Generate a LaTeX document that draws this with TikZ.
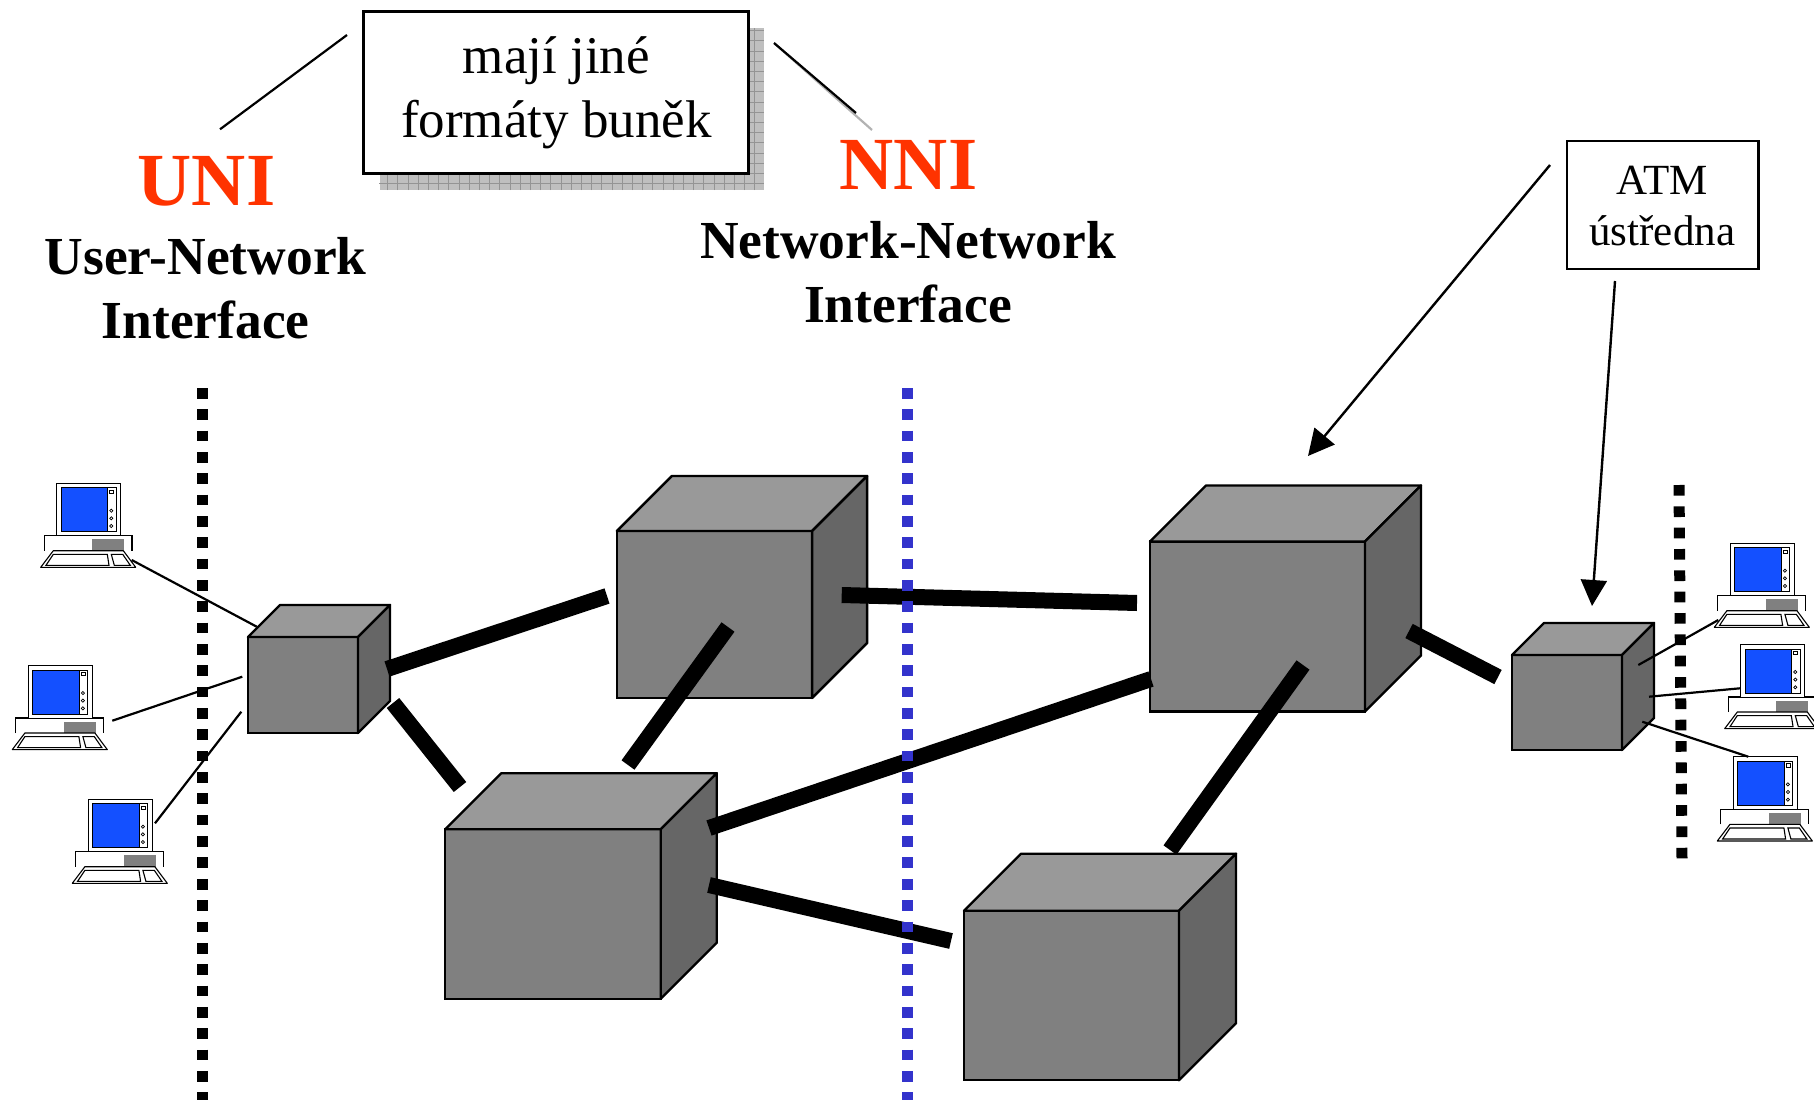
\documentclass[tikz,border=0pt]{standalone}
\usepackage{fontspec}
\setmainfont{Liberation Serif}
\usepackage{xcolor}
\usetikzlibrary{arrows.meta,positioning}
\definecolor{cubefront}{HTML}{808080}
\definecolor{cubetop}{HTML}{999999}
\definecolor{cubeside}{HTML}{666666}
\definecolor{ifred}{HTML}{FF3300}
\definecolor{nniblue}{HTML}{3333CC}
\definecolor{screenblue}{HTML}{1450FF}
\newcommand{\atmcube}[6]{%
  \node[front, minimum width=#4pt, minimum height=#5pt] (#1) at (#2,#3) {};
  \draw[face, fill=cubetop] (#1.north west) -- ++(#6,-#6) -- ++(#4,0) -- (#1.north east) -- cycle;
  \draw[face, fill=cubeside] (#1.north east) -- ++(#6,-#6) -- ++(0,#5) -- (#1.south east) -- cycle;
}
\newcommand{\pcunit}[3]{%
  \begin{scope}[shift={(#2,#3)}]
    \draw[pcline, fill=white] (-12.4,67.7) -- (-12.4,52.7) -- (75.3,52.7) -- (75.3,67.7);
    \node[monitor] (#1) at (32,26.35) {};
    \fill[screenblue, draw=black, line width=1pt] (4.3,4.7) rectangle (51,48.7);
    \draw[pcline, fill=white, line width=1pt] (51,4.7) rectangle (59.6,48.7);
    \draw[pcline, fill=white, line width=.8pt] (52.7,7) rectangle (57,10.3);
    \foreach \y in {27.7,35.3,43} \draw[pcline, fill=white, line width=.7pt] (54.6,\y) circle (1.6);
    \draw[pcline, fill=cubefront, draw=gray] (36,57) rectangle (67,67.7);
    \draw[pcline, fill=white, line join=round] (-3.4,67.7) -- (66.6,67.7) -- (79,84.3) -- (-16,84.3) -- cycle;
    \draw[pcline] (-3.4,71.3) -- (50.6,71.3) -- (52.3,82.3) -- (-10.7,82.3) -- cycle;
    \draw[pcline] (54.6,71.3) -- (66,71.3) -- (73.6,82.3) -- (57.6,82.3) -- cycle;
  \end{scope}
}
\begin{document}
\begin{tikzpicture}[x=1pt, y=-1pt,
    front/.style = {draw, fill=cubefront, line width=2.4pt, inner sep=0pt, outer sep=0pt},
    face/.style = {draw, line width=2.4pt, line join=round},
    monitor/.style = {draw, fill=white, line width=1pt, minimum width=64pt, minimum height=52.7pt, inner sep=0pt},
    pcline/.style = {draw, line width=1.1pt},
    link/.style = {line width=16pt},
    wire/.style = {line width=2.2pt},
    cut/.style = {line width=11pt, dash pattern=on 10.67pt off 10.67pt},
    callout/.style = {draw, fill=white, line width=2.4pt, inner sep=0pt, outer sep=0pt},
    pointer/.style = {line width=2.4pt, -{Triangle[length=26pt, width=26pt]}},
    acronym/.style = {text=ifred, anchor=base, font=\fontsize{75}{80}\selectfont\bfseries},
    longname/.style = {align=center, anchor=base, font=\fontsize{53.5}{64}\selectfont\bfseries}]
  \useasboundingbox (0,0) rectangle (1814,1105);

  \node[fill=black!25, minimum width=384pt, minimum height=162pt, inner sep=0pt] (shadow) at (571.5,108.8) {};
  \draw[black!42, line width=.8pt, step=10.2pt] (shadow.south west) grid (shadow.north east);
  \node[callout, minimum width=385.3pt, minimum height=162pt] (cells) at (556,92.6) {};
  \node[anchor=base, align=center, font=\fontsize{53}{63}\selectfont] (cellstext) at (556.4,137) {mají jiné\\formáty buněk};
  \node[callout, minimum width=191.8pt, minimum height=128pt] (atm) at (1662.7,205) {};
  \node[anchor=base, align=center, font=\fontsize{43}{51}\selectfont] (atmtext) at (1662.3,245) {ATM\\ústředna};

  \node[acronym] (uni) at (206.5,205.7) {UNI};
  \node[longname] (uniname) at (205.7,338) {User-Network\\Interface};
  \node[acronym] (nni) at (908.5,189.3) {NNI};
  \node[longname] (nniname) at (908,322.3) {Network-Network\\Interface};

  \atmcube{sa}{303}{685}{110}{96}{32}
  \atmcube{sb}{714.5}{614.5}{195.3}{167}{55}
  \atmcube{sc}{553}{914}{215.5}{169.5}{56}
  \atmcube{sd}{1257.5}{626.5}{215}{170}{56}
  \atmcube{se}{1071.5}{995.5}{215}{169.5}{57}
  \atmcube{sf}{1567}{702.5}{110}{95}{32}

  \pcunit{pca}{56.7}{483}
  \pcunit{pcb}{28.3}{665.3}
  \pcunit{pcc}{88.3}{799}
  \pcunit{pcd}{1730.3}{543}
  \pcunit{pce}{1740.7}{644.3}
  \pcunit{pcf}{1733.3}{756.7}

  \foreach \n/\x/\y in {la1/387/669, la2/607/596, lb1/393/703, lb2/460/787, lc1/728/627, lc2/628/765,
      ld1/841.7/595, ld2/1137/603, le1/709/828, le2/1151/679, lf1/709/885, lf2/951/941,
      lg1/1303/665, lg2/1170/850, lh1/1409/631, lh2/1498/677,
      wa1/131.7/560, wa2/256.7/626.7, wb1/112.3/720.7, wb2/242.3/676.7, wc1/155/823.3, wc2/241.3/711.7,
      wd1/1638.3/665, wd2/1718.3/620, we1/1649/696.7, we2/1740/688.3, wf1/1642.3/721.7, wf2/1748.3/756.7,
      ca1/347/35, ca2/220/129.3, cb1/774/43, cb2/856/113, cb3/872/130,
      pa1/1550/165, pa2/1308/456, pb1/1615/281, pb2/1592/606,
      ua/202.7/388, ub/202.7/1100, na/907.2/388, nb/907.2/1100, ra/1679/485, rb/1682/860}
    \coordinate (\n) at (\x,\y);

  \foreach \a/\b in {la1/la2, lb1/lb2, lc1/lc2, ld1/ld2, le1/le2, lf1/lf2, lg1/lg2, lh1/lh2}
    \draw[link] (\a) -- (\b);
  \foreach \a/\b in {wa1/wa2, wb1/wb2, wc1/wc2, wd1/wd2, we1/we2, wf1/wf2, ca1/ca2}
    \draw[wire] (\a) -- (\b);
  \draw[wire, black!30] (cb1) -- (cb3);
  \draw[wire] (cb1) -- (cb2);
  \draw[pointer] (pa1) -- (pa2);
  \draw[pointer] (pb1) -- (pb2);

  \draw[cut] (ua) -- (ub);
  \draw[cut, nniblue] (na) -- (nb);
  \draw[cut] (ra) -- (rb);
\end{tikzpicture}
\end{document}
